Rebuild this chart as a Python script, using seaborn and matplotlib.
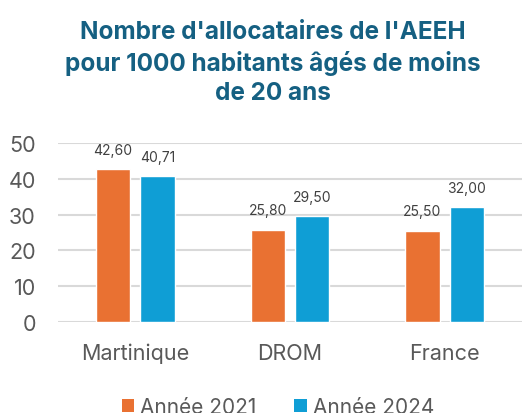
import matplotlib
matplotlib.use("Agg")
import matplotlib.pyplot as plt
import seaborn as sns
import pandas as pd
from matplotlib.patches import Patch

categories = ["Martinique", "DROM", "France"]
series_names = ["Année 2021", "Année 2024"]
values_2021 = [42.60, 25.80, 25.50]
values_2024 = [40.71, 29.50, 32.00]
yticks = [0, 10, 20, 30, 40, 50]
title = "Nombre d'allocataires de l'AEEH\npour 1000 habitants âgés de moins\nde 20 ans"

colors = ["#E97132", "#0F9ED5"]

df = pd.DataFrame({
    "cat": categories * 2,
    "serie": [series_names[0]] * 3 + [series_names[1]] * 3,
    "val": values_2021 + values_2024,
})

sns.set_theme(style="white")
plt.rcParams["font.family"] = ["Inter", "DejaVu Sans"]

fig = plt.figure(figsize=(5.25, 4.14), dpi=100)
ax = fig.add_axes([58/525, 1 - 323/414, 464/525, (323-144)/414])

sns.barplot(data=df, x="cat", y="val", hue="serie", palette=colors,
            width=0.574, gap=0.23, ax=ax, legend=False, saturation=1,
            order=categories, hue_order=series_names)

ax.set_xlim(-0.5, 2.5)
ax.set_ylim(0, 50)
ax.set_yticks(yticks)
ax.set_yticklabels([str(t) for t in yticks])
ax.yaxis.grid(True, color="#D9D9D9", linewidth=1.5)
ax.set_axisbelow(True)
for s in ax.spines.values():
    s.set_visible(False)
ax.set_xlabel("")
ax.set_ylabel("")
ax.tick_params(axis="y", length=0, pad=16, labelsize=15.5, labelcolor="#595959")
ax.tick_params(axis="x", length=0, pad=15, labelsize=15.5, labelcolor="#595959")

for cont in ax.containers:
    for bar in cont:
        h = bar.get_height()
        ax.annotate(f"{h:.2f}".replace(".", ","),
                    (bar.get_x() + bar.get_width()/2, h),
                    xytext=(0, 14), textcoords="offset points",
                    ha="center", va="center", fontsize=10, color="#404040")

fig.text(273/525, 1 - 63/414, title, ha="center", va="center",
         fontsize=17.5, fontweight="bold", color="#156082", linespacing=1.35)

handles = [Patch(facecolor=c, edgecolor="none") for c in colors]
fig.legend(handles, series_names, loc="center", bbox_to_anchor=(278/525, 1 - 408/414),
           ncol=2, frameon=False, fontsize=15, handlelength=0.6, handleheight=0.6,
           handletextpad=0.3, columnspacing=1.8, labelcolor="#595959")

fig.savefig("out.png", dpi=100)
